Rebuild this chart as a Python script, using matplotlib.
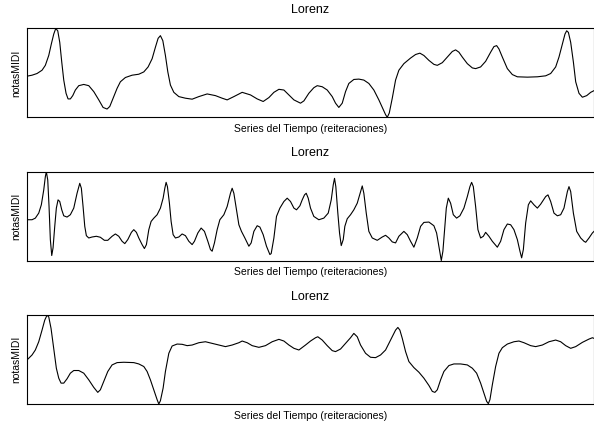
import matplotlib.pyplot as plt

# serie 1: iteraciones y notas
t1 = [0, 5, 10, 15, 18.3, 21.7, 24.3, 26.7, 28.7, 30.7, 32.7, 34.7, 36.7, 39, 41, 43.3, 45.7, 48.3,
      51.7, 56.7, 61.7, 66.7, 71.7, 76, 80, 82.7, 86, 90, 93.3, 98.3, 105, 111.7, 116.7, 121, 125,
      128.3, 131, 133.3, 135.7, 138.3, 140.7, 143.3, 146.7, 151.7, 158.3, 165, 171.7, 180, 188.3,
      195, 200, 206.7, 215, 223.3, 230, 236, 241.7, 246.7, 251.7, 256.7, 261.7, 266.7, 273.3,
      276.7, 281.6, 286.6, 290, 295, 300, 305, 308.3, 311.6, 315, 318.3, 321.6, 326.6, 331.6,
      336.6, 341.6, 346.6, 351.6, 356, 358.3, 360, 362, 365, 368.3, 371.6, 376.6, 383.3, 388.3,
      392.6, 396.6, 401.6, 406.6, 410, 415, 420, 425, 428.3, 431.6, 435, 440, 445, 448.3, 453.3,
      458.3, 463.3, 466.6, 469.3, 471.6, 475, 480, 485, 490, 500, 510, 518.3, 523.3, 528.3,
      531.6, 535, 537.6, 539.3, 541, 543.3, 546, 548.3, 551.6, 555, 559.3, 563.3, 566.6]
nota1 = [46.3, 47.4, 49.3, 53.0, 58.5, 69.6, 82.6, 93.7, 100, 97.4, 84.4, 62.2, 41.9, 27.0, 20.7, 20.7,
         24.4, 30.7, 35.6, 37.0, 35.6, 28.9, 19.6, 11.1, 9.3, 12.2, 21.5, 32.6, 40.0, 44.8, 47.4,
         48.5, 51.1, 56.7, 65.9, 78.9, 88.9, 91.9, 86.3, 69.6, 51.1, 36.3, 28.1, 23.3, 21.5, 20.4,
         23.3, 26.3, 24.4, 21.5, 19.6, 23.3, 28.1, 25.2, 20.7, 17.8, 22.2, 28.1, 31.5, 30.7, 25.2,
         19.6, 15.9, 18.5, 27.0, 33.3, 35.6, 34.4, 30.7, 23.3, 15.9, 11.1, 15.9, 28.9, 38.1, 42.6,
         43.0, 41.9, 38.1, 30.7, 19.6, 8.5, 3.0, 0, 4.8, 21.5, 41.9, 53.0, 60.4, 66.7, 70.7, 72.2,
         69.6, 64.1, 59.6, 58.5, 61.5, 67.8, 74.1, 75.9, 73.3, 67.8, 60.4, 55.6, 54.8, 56.7, 63.0,
         73.3, 79.6, 80.7, 77.0, 67.8, 54.8, 48.1, 45.6, 45.2, 45.6, 46.7, 49.3, 56.7, 67.8, 82.6,
         93.7, 97.4, 95.6, 84.4, 62.2, 40.0, 27.0, 22.6, 24.4, 28.1, 30.0]

# serie 2
t2 = [0, 5, 8.3, 11.7, 14.3, 16.7, 18.3, 19.3, 20.7, 22, 23.3, 24.7, 26, 27.7, 29.3, 31, 32.7, 34.7,
      36.7, 40, 43.3, 46.7, 50, 52.7, 54.3, 56, 57.7, 59.3, 61.7, 65, 69.3, 73.3, 77.3, 80.7, 85,
      88.3, 91.7, 95, 97.7, 100.7, 104.3, 106.7, 109.3, 111.7, 115, 117.3, 119.3, 121.7, 124,
      126.7, 130, 133.3, 136, 137.7, 139, 140.3, 142.3, 144, 146, 148.3, 151.7, 155, 158.3, 161.7,
      165, 167.3, 170.7, 174, 177.3, 180.7, 183.3, 185, 187.3, 190, 192.7, 196.7, 200, 203.3, 205,
      206.7, 209.3, 211.7, 214.3, 217.7, 221.7, 224, 226.7, 230, 232.7, 236, 239.3, 242.7, 244,
      246.7, 249.3, 252.7, 256.7, 260, 263.3, 266.7, 269.3, 272.7, 275, 277.3, 279, 281, 283.3,
      286.6, 291.6, 296.6, 301, 304, 306, 307.3, 308.6, 310.6, 312.3, 314, 316, 317.6, 320, 323.3,
      326.6, 330, 333.3, 335, 336.6, 339, 341.6, 345, 350, 355, 358.3, 361.6, 365, 368.3, 371.6,
      376.6, 380, 383.3, 386.6, 390, 393.3, 396.6, 401.6, 406.6, 409.3, 411, 412.6, 414, 415.6,
      417.3, 419, 421, 423.3, 426, 429.3, 432.6, 436.6, 440, 442.6, 444.3, 446, 448.3, 450.6,
      453.3, 456, 458.3, 461.6, 465, 470, 473.3, 476.6, 480, 483.3, 486.6, 490, 492.6, 494.3, 496,
      498.3, 501, 503.3, 506.6, 510, 513.3, 518.3, 520.6, 523.3, 526.6, 530, 533.3, 536.6, 540,
      541.6, 543.3, 546, 549.3, 553.3, 556.6, 558.3, 561.6, 565, 566.6]
nota2 = [46.3, 46.3, 48.1, 53.7, 63.0, 79.6, 94.4, 100, 90.7, 61.1, 24.1, 6.3, 14.8, 38.9, 59.3, 68.5,
         66.7, 57.4, 50.7, 49.3, 51.9, 59.3, 75.9, 87.0, 81.5, 61.1, 38.9, 28.5, 25.9, 27.0, 27.8,
         26.7, 23.3, 23.3, 27.8, 30.4, 27.8, 22.2, 19.6, 24.1, 32.2, 35.2, 32.2, 25.9, 18.5, 14.1,
         18.5, 35.2, 44.4, 48.1, 51.9, 59.3, 70.4, 81.5, 88.1, 83.3, 64.8, 44.4, 29.6, 25.9, 27.0,
         30.4, 28.5, 22.2, 18.5, 22.2, 31.5, 37.0, 33.3, 22.2, 13.0, 11.1, 20.4, 35.2, 46.3, 51.9,
         61.1, 75.9, 81.5, 75.9, 57.4, 40.7, 33.3, 25.9, 16.7, 20.4, 33.3, 39.6, 38.1, 29.6, 16.7,
         7.4, 8.5, 25.9, 50.0, 59.3, 66.7, 70.4, 66.7, 59.3, 57.4, 61.9, 68.5, 74.1, 75.9, 70.4,
         59.3, 50.0, 46.3, 48.1, 53.7, 68.5, 85.2, 92.6, 83.3, 53.7, 31.5, 17.4, 24.1, 38.9, 47.4,
         51.9, 57.4, 64.8, 77.8, 84.1, 75.9, 53.7, 33.3, 25.9, 23.3, 27.0, 28.9, 25.9, 21.5, 20.4,
         27.8, 33.3, 29.6, 22.2, 15.6, 25.9, 38.9, 43.3, 43.7, 39.6, 31.5, 20.4, 9.3, 0.7, 11.1,
         35.2, 59.3, 70.4, 64.8, 51.9, 48.1, 50.7, 59.3, 72.2, 83.3, 88.1, 83.3, 61.1, 35.2, 25.9,
         27.8, 32.2, 27.8, 22.2, 15.6, 22.2, 35.2, 41.5, 40.7, 35.2, 24.1, 11.1, 3.7, 13.0, 42.6,
         63.0, 67.4, 63.0, 59.3, 63.7, 72.2, 74.1, 66.7, 53.7, 50.7, 51.9, 59.3, 77.8, 83.3, 77.8,
         53.7, 33.3, 25.9, 22.2, 21.1, 25.9, 31.5, 33.3]

# serie 3
t3 = [0, 5, 8.3, 11.7, 15, 17.7, 20, 21.7, 24, 26.7, 29.3, 31.7, 34, 36.7, 40, 43.3, 46.7, 51.7, 56.7,
      61.7, 66.7, 70.7, 73.3, 76.7, 80.7, 85, 90, 96.7, 106.7, 111.7, 116.7, 120, 123.3, 126.7,
      130, 131.7, 133.3, 136, 138.3, 141.7, 145, 150, 155, 160, 165, 171.7, 178.3, 185, 191.7,
      198.3, 205, 211.7, 215, 220, 225, 231.7, 238.3, 245, 251.7, 256.7, 261.7, 266.7, 271.7,
      278.3, 283.3, 288.3, 290.6, 295, 300, 305, 308.3, 313.3, 318.3, 323.3, 326.6, 330, 333.3,
      338.3, 343.3, 348.3, 353.3, 358.3, 363.3, 368.3, 370.6, 372.6, 375, 378.3, 381.6, 386.6,
      391.6, 396.6, 401.6, 405, 407.6, 410, 413.3, 416.6, 421.6, 426.6, 433.3, 440, 445, 449.3,
      453.3, 456.6, 459.3, 461, 462.6, 465, 468.3, 471.6, 475, 480, 486.6, 491.6, 496.6, 503.3,
      508.3, 515, 521.6, 528.3, 533.3, 538.3, 543.3, 548.3, 555, 561.6, 565, 566.6]
nota3 = [49.6, 55.2, 60.8, 70.1, 83.2, 94.4, 100, 98.1, 85.1, 62.7, 40.3, 29.1, 23.5, 23.5, 28.4, 34.7,
         37.7, 37.7, 34.7, 27.2, 18.7, 13.1, 16.0, 25.4, 36.6, 44.0, 46.6, 47.0, 46.6, 45.1, 42.2,
         36.6, 27.2, 16.0, 4.9, 0, 3.7, 17.9, 36.6, 57.1, 65.3, 67.5, 67.2, 65.7, 66.4, 69.0, 70.1,
         68.3, 66.4, 64.6, 66.4, 69.0, 70.9, 69.0, 65.7, 63.8, 65.7, 70.1, 72.8, 70.9, 66.4, 62.7,
         60.8, 66.4, 70.9, 74.6, 75.7, 72.0, 65.7, 60.1, 59.0, 61.9, 68.3, 74.6, 79.5, 75.7, 66.4,
         57.1, 52.6, 52.2, 55.2, 60.8, 72.0, 83.2, 86.2, 83.2, 73.9, 59.0, 47.8, 41.0, 35.8, 29.1,
         20.9, 14.2, 13.1, 16.0, 27.2, 36.6, 43.3, 45.1, 45.1, 44.0, 40.3, 34.7, 23.5, 12.3, 3.0,
         0.4, 4.9, 21.6, 42.2, 57.1, 63.4, 67.5, 70.1, 70.9, 69.0, 65.7, 64.6, 66.4, 70.1, 72.0,
         70.1, 65.7, 62.7, 64.6, 69.4, 73.1, 74.6, 73.9]

series = [(t1, nota1), (t2, nota2), (t3, nota3)]

plt.rcParams['font.family'] = ['Liberation Sans', 'DejaVu Sans']
plt.rcParams['font.size'] = 7.5

fig = plt.figure(figsize=(5.94, 4.25), dpi=100)
bottoms = [0.724, 0.387, 0.0494]
for (t, nota), b in zip(series, bottoms):
    ax = fig.add_axes([0.0455, b, 0.9545, 0.209])
    ax.plot(t, nota, color='black', linewidth=0.8, solid_joinstyle='round')
    ax.set_xlim(min(t), max(t))
    ax.set_ylim(min(nota), max(nota))
    ax.set_xticks([])
    ax.set_yticks([])
    ax.set_title('Lorenz', pad=11)
    ax.set_xlabel('Series del Tiempo (reiteraciones)', labelpad=5)
    ax.set_ylabel('notasMIDI', labelpad=4)

fig.savefig('out.png', dpi=100)
